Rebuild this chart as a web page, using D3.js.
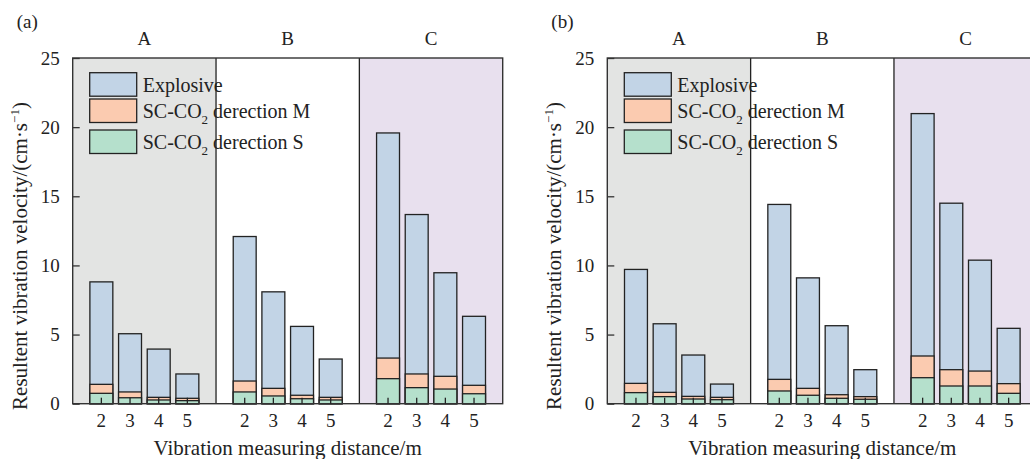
<!DOCTYPE html>
<html>
<head>
<meta charset="utf-8">
<script src="https://cdn.jsdelivr.net/npm/d3@7"></script>
<style>
    body { margin: 0; background: #fff; }
    svg text { font-family: "Liberation Serif", "Times New Roman", serif; }
</style>
</head>
<body>
<script>
"use strict";

var groups = ["A", "B", "C"];
var distances = ["2", "3", "4", "5"];
var yTicks = [0, 5, 10, 15, 20, 25];
var groupFill = ["#e3e4e3", "#ffffff", "#e8e0ee"];

// values per bar, order: A2..A5, B2..B5, C2..C5 (each bar drawn from zero)
var explosiveLeft = [8.81, 5.06, 3.95, 2.15, 12.09, 8.09, 5.59, 3.23, 19.58, 13.68, 9.47, 6.32];
var dirMLeft = [1.40, 0.85, 0.46, 0.39, 1.64, 1.11, 0.61, 0.46, 3.30, 2.15, 1.98, 1.33];
var dirSLeft = [0.75, 0.43, 0.27, 0.22, 0.85, 0.56, 0.36, 0.27, 1.81, 1.16, 1.06, 0.72];

var explosiveRight = [9.71, 5.78, 3.52, 1.42, 14.41, 9.10, 5.64, 2.46, 20.98, 14.50, 10.38, 5.45];
var dirMRight = [1.47, 0.82, 0.53, 0.46, 1.76, 1.11, 0.65, 0.51, 3.45, 2.46, 2.36, 1.45];
var dirSRight = [0.80, 0.51, 0.34, 0.29, 0.92, 0.61, 0.39, 0.32, 1.88, 1.28, 1.28, 0.75];

var seriesColors = ["#c2d4e6", "#fbcbb0", "#b5e0cc"];

function init() {
    var w = 1030;
    var h = 459;
    var top = 58;
    var bottom = 403.7;
    var plotW = 430;

    var svg = d3.select("body")
        .append("svg")
        .attr("width", w)
        .attr("height", h)
        .attr("font-family", "Liberation Serif");

    drawPanel(svg, 72.7, "(a)", [explosiveLeft, dirMLeft, dirSLeft]);
    drawPanel(svg, 607.3, "(b)", [explosiveRight, dirMRight, dirSRight]);

    function drawPanel(svg, left, tag, series) {
        var g = svg.append("g").attr("transform", "translate(" + left + ",0)");

        var xGroup = d3.scaleBand()
            .domain(groups)
            .range([0, plotW]);

        var xDist = d3.scaleBand()
            .domain(distances)
            .range([0, xGroup.bandwidth()])
            .paddingInner(0.2)
            .paddingOuter(0.6);

        var yScale = d3.scaleLinear()
            .domain([0, 25])
            .range([bottom, top]);

        //Group backgrounds
        g.selectAll("rect.bg")
            .data(groups)
            .enter()
            .append("rect")
            .attr("class", "bg")
            .attr("x", function (d) { return xGroup(d); })
            .attr("y", top)
            .attr("width", xGroup.bandwidth())
            .attr("height", bottom - top)
            .attr("fill", function (d, i) { return groupFill[i]; });

        //Bars, explosive first then the SC-CO2 ones on top
        series.forEach(function (vals, si) {
            g.selectAll("rect.s" + si)
                .data(vals)
                .enter()
                .append("rect")
                .attr("class", "s" + si)
                .attr("x", function (d, i) {
                    return xGroup(groups[Math.floor(i / 4)]) + xDist(distances[i % 4]);
                })
                .attr("y", function (d) { return yScale(d); })
                .attr("width", xDist.bandwidth())
                .attr("height", function (d) { return bottom - yScale(d); })
                .attr("fill", seriesColors[si])
                .attr("stroke", "#222")
                .attr("stroke-width", 1.3);
        });

        //Group dividers
        g.selectAll("line.div")
            .data(groups.slice(1))
            .enter()
            .append("line")
            .attr("x1", function (d) { return xGroup(d); })
            .attr("x2", function (d) { return xGroup(d); })
            .attr("y1", top)
            .attr("y2", bottom)
            .attr("stroke", "#222")
            .attr("stroke-width", 1.3);

        //Frame
        g.append("rect")
            .attr("x", 0)
            .attr("y", top)
            .attr("width", plotW)
            .attr("height", bottom - top)
            .attr("fill", "none")
            .attr("stroke", "#333")
            .attr("stroke-width", 1.4);

        //Y axis
        var yAxis = d3.axisLeft(yScale)
            .tickValues(yTicks)
            .tickSize(-7)
            .tickPadding(13);
        var ya = g.append("g").call(yAxis).attr("font-family", "Liberation Serif");
        ya.select(".domain").remove();
        ya.selectAll("line").attr("stroke", "#333").attr("stroke-width", 1.3);
        ya.selectAll("text")
            .attr("font-size", "19px")
            .attr("fill", "#222");

        //X axis: one per group
        groups.forEach(function (grp) {
            var xAxis = d3.axisBottom(xDist)
                .tickSize(-6)
                .tickPadding(10);
            var xa = g.append("g")
                .attr("transform", "translate(" + xGroup(grp) + "," + bottom + ")")
                .call(xAxis)
                .attr("font-family", "Liberation Serif");
            xa.select(".domain").remove();
            xa.selectAll("line").attr("stroke", "#222").attr("stroke-width", 1.3);
            xa.selectAll("text")
                .attr("font-size", "19px")
                .attr("fill", "#222");
        });

        //Group labels
        g.selectAll("text.grp")
            .data(groups)
            .enter()
            .append("text")
            .attr("class", "grp")
            .attr("x", function (d) { return xGroup(d) + xGroup.bandwidth() / 2; })
            .attr("y", 45)
            .attr("text-anchor", "middle")
            .attr("font-size", "19px")
            .attr("fill", "#222")
            .text(function (d) { return d; });

        //Panel tag
        g.append("text")
            .attr("x", -56)
            .attr("y", 28)
            .attr("font-size", "19px")
            .attr("fill", "#222")
            .text(tag);

        //Legend
        var legendY = [72.7, 99, 130];
        var lg = g.append("g").attr("transform", "translate(17,0)");
        legendY.forEach(function (ly, i) {
            lg.append("rect")
                .attr("x", 0)
                .attr("y", ly)
                .attr("width", 47)
                .attr("height", 23.5)
                .attr("fill", seriesColors[i])
                .attr("stroke", "#222")
                .attr("stroke-width", 1.3);
            var t = lg.append("text")
                .attr("x", 53)
                .attr("y", ly + 19)
                .attr("font-size", "20px")
                .attr("fill", "#222");
            if (i === 0) {
                t.text("Explosive");
            } else {
                t.append("tspan").text("SC-CO");
                t.append("tspan").attr("font-size", "13px").attr("dy", 6).text("2");
                t.append("tspan").attr("dy", -6).text(" derection " + (i === 1 ? "M" : "S"));
            }
        });

        //Axis titles
        g.append("text")
            .attr("x", plotW / 2)
            .attr("y", 455)
            .attr("text-anchor", "middle")
            .attr("font-size", "21px")
            .attr("fill", "#222")
            .text("Vibration measuring distance/m");

        var yt = g.append("text")
            .attr("transform", "translate(-46,256) rotate(-90)")
            .attr("text-anchor", "middle")
            .attr("font-size", "21px")
            .attr("fill", "#222");
        yt.append("tspan").text("Resultent vibration velocity/(cm·s");
        yt.append("tspan").attr("font-size", "13px").attr("dy", -8).text("−1");
        yt.append("tspan").attr("dy", 8).text(")");
    }
}

window.onload = init;
</script>
</body>
</html>
